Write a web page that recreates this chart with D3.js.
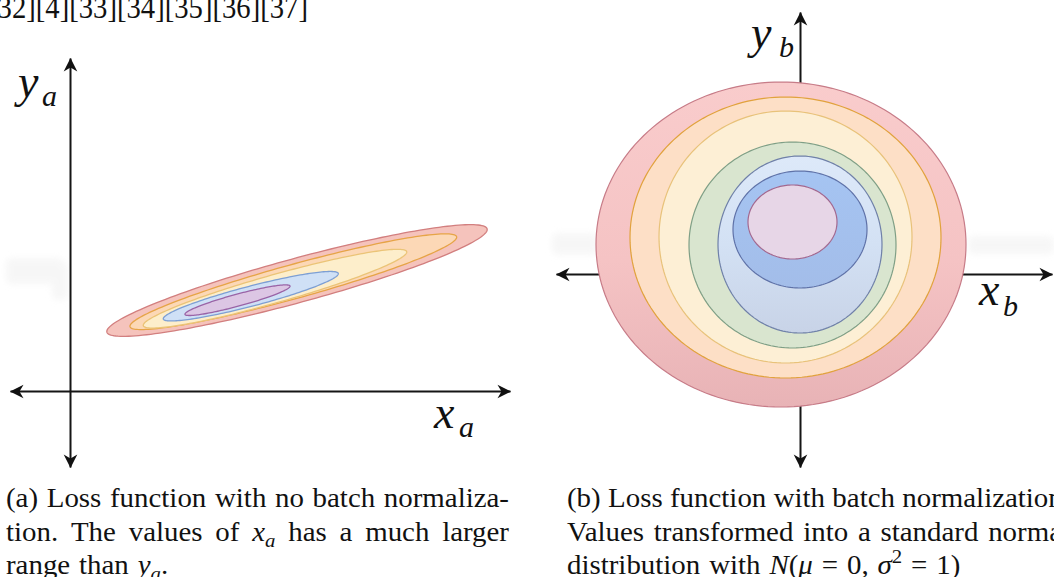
<!DOCTYPE html>
<html>
<head>
<meta charset="utf-8">
<script src="https://cdn.jsdelivr.net/npm/d3@7"></script>
<style>
  html, body { margin: 0; padding: 0; background: #fff; overflow: hidden; }
  svg { display: block; }
</style>
</head>
<body>
<svg id="fig" width="1054" height="577"></svg>
<script>
// ---------- Panel (a): loss contours, no batch normalisation (outermost level first)
const levelsA = ["a5", "a4", "a3", "a2", "a1"];
const centreXA = [22.7, 22.33, 20.5, 18.08, 16.75];
const centreYA = [11.05, 10.93, 10.23, 9.48, 9.08];
const semiMajorA = [19.7, 16.94, 13.68, 9.04, 5.44];
const semiMinorA = [2.2, 1.7, 1.4, 1.0, 0.6];
const tiltA = [15.2, 15.4, 15.7, 14.6, 15.1];   // degrees, counter-clockwise

// ---------- Panel (b): loss contours after batch normalisation (outermost level first)
const levelsB = ["b7", "b6", "b5", "b4", "b3", "b2", "b1"];
const centreXB = [-1.9, -1.45, -1.45, -0.75, 0, 0, -0.75];
const centreYB = [2.95, 3.65, 3.7, 2.9, 2.95, 4.45, 5.2];
const radiusXB = [18.5, 15.55, 12.65, 10.35, 8.2, 6.7, 4.45];
const radiusYB = [16.25, 14.05, 12.6, 10.3, 8.85, 5.85, 3.7];

// ---------- Axis extents (data units) and labels
const domainXA = [-6, 44], domainYA = [-7.6, 33.3];
const domainXB = [-24.4, 25.2], domainYB = [-19.3, 26.2];

const captionA = [
  [[["(a)","r"]],[["Loss","r"]],[["function","r"]],[["with","r"]],[["no","r"]],[["batch","r"]],[["normaliza-","r"]]],
  [[["tion.","r"]],[["The","r"]],[["values","r"]],[["of","r"]],[["x","i"],["a","sub"]],[["has","r"]],[["a","r"]],[["much","r"]],[["larger","r"]]],
  [[["range","r"]],[["than","r"]],[["y","i"],["a","sub"],[".","r"]]]
];
const captionB = [
  [[["(b)","r"]],[["Loss","r"]],[["function","r"]],[["with","r"]],[["batch","r"]],[["normalization.","r"]]],
  [[["Values","r"]],[["transformed","r"]],[["into","r"]],[["a","r"]],[["standard","r"]],[["normal","r"]]],
  [[["distribution","r"]],[["with","r"]],[["N","i"],["(","r"],["μ","i"]],[["=","r"]],[["0,","r"]],[["σ","i"],["2","sup"]],[["=","r"]],[["1)","r"]]]
];
const citeLine = "[32][4][33][34][35][36][37]";

// ---------- Styles
const serif = "'Liberation Serif', 'DejaVu Serif', serif";
const fillA = d3.scaleOrdinal(levelsA, ["#f5c3bc", "#fcd8b6", "#fdeecb", "#cfe0f6", "#dcc6e4"]);
const lineA = d3.scaleOrdinal(levelsA, ["#d27f7f", "#e6a446", "#ebc477", "#7d9fd4", "#9a64a6"]);
const fillB = d3.scaleOrdinal(levelsB, ["url(#gOuter)", "#fddfc6", "#fdefd5", "#d9e5cf", "url(#gLight)", "url(#gBlue)", "#e7d6e7"]);
const lineB = d3.scaleOrdinal(levelsB, ["#c77c88", "#e1a23c", "#e8c27a", "#7f9f86", "#6f80a8", "#5f72a8", "#a3688f"]);

const svg = d3.select("#fig");
svg.append("rect").attr("width", 1054).attr("height", 577).attr("fill", "#fff");

const defs = svg.append("defs");
function vGrad(id, stops) {
  const g = defs.append("linearGradient").attr("id", id)
    .attr("x1", 0).attr("y1", 0).attr("x2", 0).attr("y2", 1);
  stops.forEach(([o, c]) => g.append("stop").attr("offset", o).attr("stop-color", c));
}
vGrad("gOuter", [[0, "#f9cccc"], [0.55, "#f5c3c4"], [1, "#e8b3b6"]]);
vGrad("gLight", [[0, "#dde9f9"], [0.5, "#d3e1f4"], [1, "#c8d3e7"]]);
vGrad("gBlue", [[0, "#a5c4f2"], [1, "#a3bde9"]]);

defs.append("filter").attr("id", "soft").attr("x", "-5%").attr("y", "-20%").attr("width", "110%").attr("height", "140%")
  .append("feGaussianBlur").attr("stdDeviation", 0.45);
defs.append("filter").attr("id", "smudge").attr("x", "-50%").attr("y", "-50%").attr("width", "200%").attr("height", "200%")
  .append("feGaussianBlur").attr("stdDeviation", 3);

// Arrow head in the LaTeX "stealth" style
defs.append("marker").attr("id", "arrow")
  .attr("viewBox", "-15 -8 16 16").attr("refX", 0).attr("refY", 0)
  .attr("markerWidth", 16).attr("markerHeight", 16)
  .attr("markerUnits", "userSpaceOnUse").attr("orient", "auto-start-reverse")
  .append("path").attr("d", "M0.5,0 L-13,-6.8 L-9,0 L-13,6.8 Z").attr("fill", "#111");

// Very faint grey smudges sitting behind both plots
const smudges = svg.append("g").attr("filter", "url(#smudge)").attr("fill", "#efefef").attr("opacity", 0.5);
[[6, 258, 58, 26], [52, 262, 16, 38], [552, 233, 46, 22], [968, 236, 86, 18]].forEach(([x, y, w, h]) =>
  smudges.append("rect").attr("x", x).attr("y", y).attr("width", w).attr("height", h).attr("rx", 6));

// ---------- Scales
const xA = d3.scaleLinear().domain(domainXA).range([10, 510]);
const yA = d3.scaleLinear().domain(domainYA).range([467, 58]);
const xB = d3.scaleLinear().domain(domainXB).range([556, 1052]);
const yB = d3.scaleLinear().domain(domainYB).range([467, 12]);

function axes(x, y) {
  const g = svg.append("g");
  g.append("g").attr("transform", `translate(0,${y(0)})`)
    .call(d3.axisBottom(x).tickValues([]).tickSizeOuter(0));
  g.append("g").attr("transform", `translate(${x(0)},0)`)
    .call(d3.axisLeft(y).tickValues([]).tickSizeOuter(0));
  g.selectAll(".domain")
    .attr("stroke", "#151515").attr("stroke-width", 2)
    .attr("marker-start", "url(#arrow)").attr("marker-end", "url(#arrow)");
  return g;
}

// Ellipse outline sampled in data space, then mapped through the scales
const angles = d3.range(0, 2 * Math.PI, Math.PI / 90);
function ellipse(x, y, cx, cy, rx, ry, tiltDeg) {
  const t = tiltDeg * Math.PI / 180, c = Math.cos(t), s = Math.sin(t);
  const pts = angles.map(a => {
    const u = rx * Math.cos(a), v = ry * Math.sin(a);
    return [cx + u * c - v * s, cy + u * s + v * c];
  });
  return d3.line().x(d => x(d[0])).y(d => y(d[1])).curve(d3.curveLinearClosed)(pts);
}

// ---------- Panel (a)
axes(xA, yA);
svg.append("g").attr("filter", "url(#soft)")
  .selectAll("path").data(levelsA).join("path")
  .attr("d", (d, i) => ellipse(xA, yA, centreXA[i], centreYA[i], semiMajorA[i], semiMinorA[i], tiltA[i]))
  .attr("fill", d => fillA(d)).attr("stroke", d => lineA(d)).attr("stroke-width", 1.3);

// ---------- Panel (b)
axes(xB, yB);
svg.append("g").attr("filter", "url(#soft)")
  .selectAll("path").data(levelsB).join("path")
  .attr("d", (d, i) => ellipse(xB, yB, centreXB[i], centreYB[i], radiusXB[i], radiusYB[i], 0))
  .attr("fill", d => fillB(d)).attr("stroke", d => lineB(d)).attr("stroke-width", 1.2);

// ---------- Axis labels (math italic with subscripts)
function mathLabel(main, sub, x, y, subX, subY) {
  svg.append("text").attr("x", x).attr("y", y).attr("font-family", serif)
    .attr("font-style", "italic").attr("font-size", 46).attr("fill", "#111").text(main);
  svg.append("text").attr("x", subX).attr("y", subY).attr("font-family", serif)
    .attr("font-style", "italic").attr("font-size", 30).attr("fill", "#111").text(sub);
}
mathLabel("y", "a", 18, 97, 42, 106);
mathLabel("x", "a", 434, 428, 459, 437);
mathLabel("y", "b", 751, 48, 779, 57);
mathLabel("x", "b", 979, 305, 1003, 316);

// ---------- Text above the figure
svg.append("text").attr("x", -12).attr("y", 17.5).attr("font-family", serif)
  .attr("font-size", 31).attr("fill", "#111")
  .attr("textLength", 320).attr("lengthAdjust", "spacingAndGlyphs").text(citeLine);

// ---------- Captions, set as justified paragraphs
const fs = 27;
const stretch = 1.07;   // widen glyphs slightly, closer to Computer Modern proportions
function word(g, segs, y) {
  const t = g.append("text").attr("y", y).attr("font-family", serif)
    .attr("font-size", fs).attr("fill", "#111");
  let off = 0;
  segs.forEach(([s, k]) => {
    const target = k === "sub" ? 0.24 * fs : k === "sup" ? -0.4 * fs : 0;
    t.append("tspan").text(s)
      .attr("font-style", (k === "i" || k === "sub") ? "italic" : "normal")
      .attr("font-size", (k === "sub" || k === "sup") ? fs * 0.72 : fs)
      .attr("dy", target - off);
    off = target;
  });
  const w = t.node().getComputedTextLength() * stretch;
  t.attr("textLength", w).attr("lengthAdjust", "spacingAndGlyphs");
  return [t, w];
}
function paragraph(lines, x0, width, baselines) {
  const g = svg.append("g");
  lines.forEach((words, li) => {
    const made = words.map(w => word(g, w, baselines[li]));
    const total = d3.sum(made, m => m[1]);
    const last = li === lines.length - 1;
    const gap = last ? fs * 0.33 : (width - total) / (words.length - 1);
    let x = x0;
    made.forEach(([n, w]) => { n.attr("x", x); x += w + gap; });
  });
}
paragraph(captionA, 6, 503, [507, 541, 574]);
paragraph(captionB, 567, 503, [507, 541, 574]);
</script>
</body>
</html>
